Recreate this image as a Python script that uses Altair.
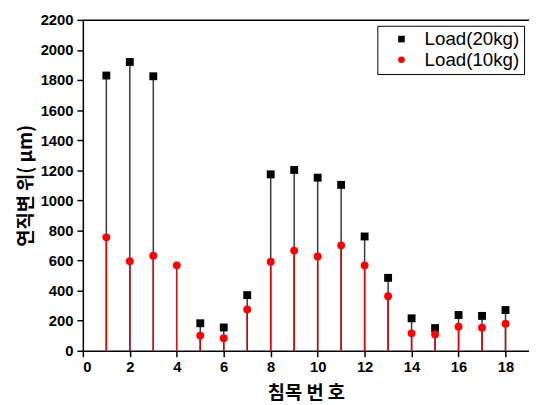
import altair as alt
import pandas as pd

sleepers = list(range(1, 19))
load20 = [1830, 1920, 1825, None, 183, 155, 370, 1173, 1202, 1151, 1103, 760, 485, 216, 151, 238, 232, 271]
load10 = [754, 596, 632, 568, 101, 83, 275, 592, 666, 627, 701, 568, 363, 116, 109, 160, 153, 180]
series = ["Load(20kg)", "Load(10kg)"]
x_ticks = list(range(0, 19, 2))
y_ticks = list(range(0, 2201, 200))

rows = []
for s, v20, v10 in zip(sleepers, load20, load10):
    if v20 is not None:
        rows.append({"sleeper": s, "series": series[0], "value": v20})
    rows.append({"sleeper": s, "series": series[1], "value": v10})
df = pd.DataFrame(rows)

ax_common = dict(
    domainColor="black", domainWidth=1.5, tickColor="black", tickWidth=1.5, tickSize=6,
    labelFont="Liberation Sans", labelFontWeight="bold", labelFontSize=15, labelColor="black",
    titleFont="Noto Sans CJK KR", titleFontSize=19, titleFontWeight="bold", titleColor="black",
    grid=False, format="d",
)

xs = alt.Scale(domain=[0, 19], nice=False, zero=False)
ys = alt.Scale(domain=[0, 2200], nice=False)

x = alt.X("sleeper:Q", scale=xs,
          axis=alt.Axis(values=x_ticks, title="침목 번 호", labelPadding=3, titlePadding=9, **ax_common))
y = alt.Y("value:Q", scale=ys,
          axis=alt.Axis(values=y_ticks, title="연직변 위( μm)", labelPadding=4, titlePadding=5, **ax_common))

base = alt.Chart(df).transform_calculate(zero="0")

rule20 = base.transform_filter(alt.datum.series == series[0]).mark_rule(
    color="#3a3a3a", strokeWidth=1.5).encode(x=x, y=y, y2=alt.Y2("zero:Q"))
rule10 = base.transform_filter(alt.datum.series == series[1]).mark_rule(
    color="#e00000", strokeWidth=1.5).encode(x=x, y=y, y2=alt.Y2("zero:Q"))

leg = alt.Legend(title=None, orient="none", legendX=299, legendY=6, strokeColor="black",
                 fillColor="white", padding=4, labelFontSize=19, labelFont="Liberation Sans",
                 labelColor="black", symbolOffset=11, labelOffset=14, rowPadding=1,
                 symbolSize=45, symbolStrokeWidth=0)

points = base.mark_point(filled=True, opacity=1, size=64, strokeWidth=0).encode(
    x=x, y=y,
    color=alt.Color("series:N", scale=alt.Scale(domain=series, range=["black", "red"]), legend=leg),
    shape=alt.Shape("series:N", scale=alt.Scale(domain=series, range=["square", "circle"]), legend=leg),
    order=alt.Order("series:N", sort="descending"),
)

main = alt.layer(rule20, rule10, points)

top = alt.Chart(df).mark_point(opacity=0).encode(
    x=alt.X("sleeper:Q", scale=xs,
            axis=alt.Axis(orient="top", labels=False, ticks=False, title=None,
                          domainColor="black", domainWidth=1.5, grid=False)),
    y=y,
)

chart = alt.layer(main, top).resolve_axis(x="independent").properties(
    width=453, height=336,
    padding={"left": 76, "top": 9, "right": 0, "bottom": 52},
    autosize=alt.AutoSizeParams(type="none"),
    background="white",
).configure_view(strokeWidth=0)

chart.save("out.html", embed_options={"renderer": "svg", "actions": False})
